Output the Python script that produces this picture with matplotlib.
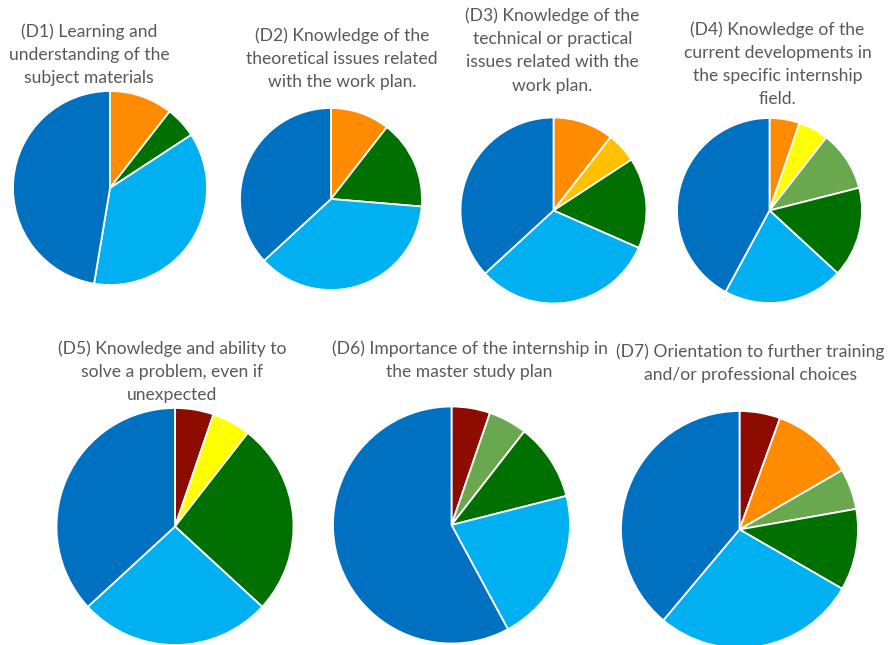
import matplotlib.pyplot as plt

plt.rcParams['font.family'] = ['Lato', 'DejaVu Sans']

# category order: dark red, orange, gold, yellow, light green, dark green, light blue, dark blue
colors = ['#8E0B00', '#FF8C00', '#FFC000', '#FFFF00', '#6AA84F', '#007000', '#00B0F0', '#0070C0']

titles = [
    '(D1) Learning and\nunderstanding of the\nsubject materials',
    '(D2) Knowledge of the\ntheoretical issues related\nwith the work plan.',
    '(D3) Knowledge of the\ntechnical or practical\nissues related with the\nwork plan.',
    '(D4) Knowledge of the\ncurrent developments in\nthe specific internship\nfield.',
    '(D5) Knowledge and ability to\nsolve a problem, even if\nunexpected',
    '(D6) Importance of the internship in\nthe master study plan',
    '(D7) Orientation to further training\nand/or professional choices',
]

d1 = [0, 2, 0, 0, 0, 1, 7, 9]
d2 = [0, 2, 0, 0, 0, 3, 7, 7]
d3 = [0, 2, 1, 0, 0, 3, 6, 7]
d4 = [0, 1, 0, 1, 2, 3, 4, 8]
d5 = [1, 0, 0, 1, 0, 5, 5, 7]
d6 = [1, 0, 0, 0, 1, 2, 4, 11]
d7 = [1, 2, 0, 0, 1, 2, 5, 7]
data = [d1, d2, d3, d4, d5, d6, d7]

# layout in pixels (x, y from top), radius, title centre
W, H = 896, 645
centers = [(110, 188), (331, 199), (553.5, 210.5), (769.5, 210.5),
           (175, 526.5), (451.5, 525), (739.5, 529.5)]
radii = [97, 91, 93, 92.5, 118.5, 118.5, 118.5]
title_pos = [(89, 55), (342, 59), (552.5, 50.5), (777.5, 64),
             (172, 372), (469.5, 360), (750.5, 363.5)]

fig = plt.figure(figsize=(W / 100, H / 100), dpi=100)
ax = fig.add_axes([0, 0, 1, 1])

for vals, (cx, cy), r, title, (tx, ty) in zip(data, centers, radii, titles, title_pos):
    v = [x for x in vals if x > 0]
    c = [col for x, col in zip(vals, colors) if x > 0]
    ax.pie(v, colors=c, startangle=90, counterclock=False,
           center=(cx, H - cy), radius=r,
           wedgeprops=dict(edgecolor='white', linewidth=1.3))
    ax.text(tx, H - ty, title, ha='center', va='center', fontsize=12.6,
            color='#595959', linespacing=1.55)

ax.set_xlim(0, W)
ax.set_ylim(0, H)
ax.set_aspect('equal')
ax.axis('off')

fig.savefig('out.png', dpi=100)
